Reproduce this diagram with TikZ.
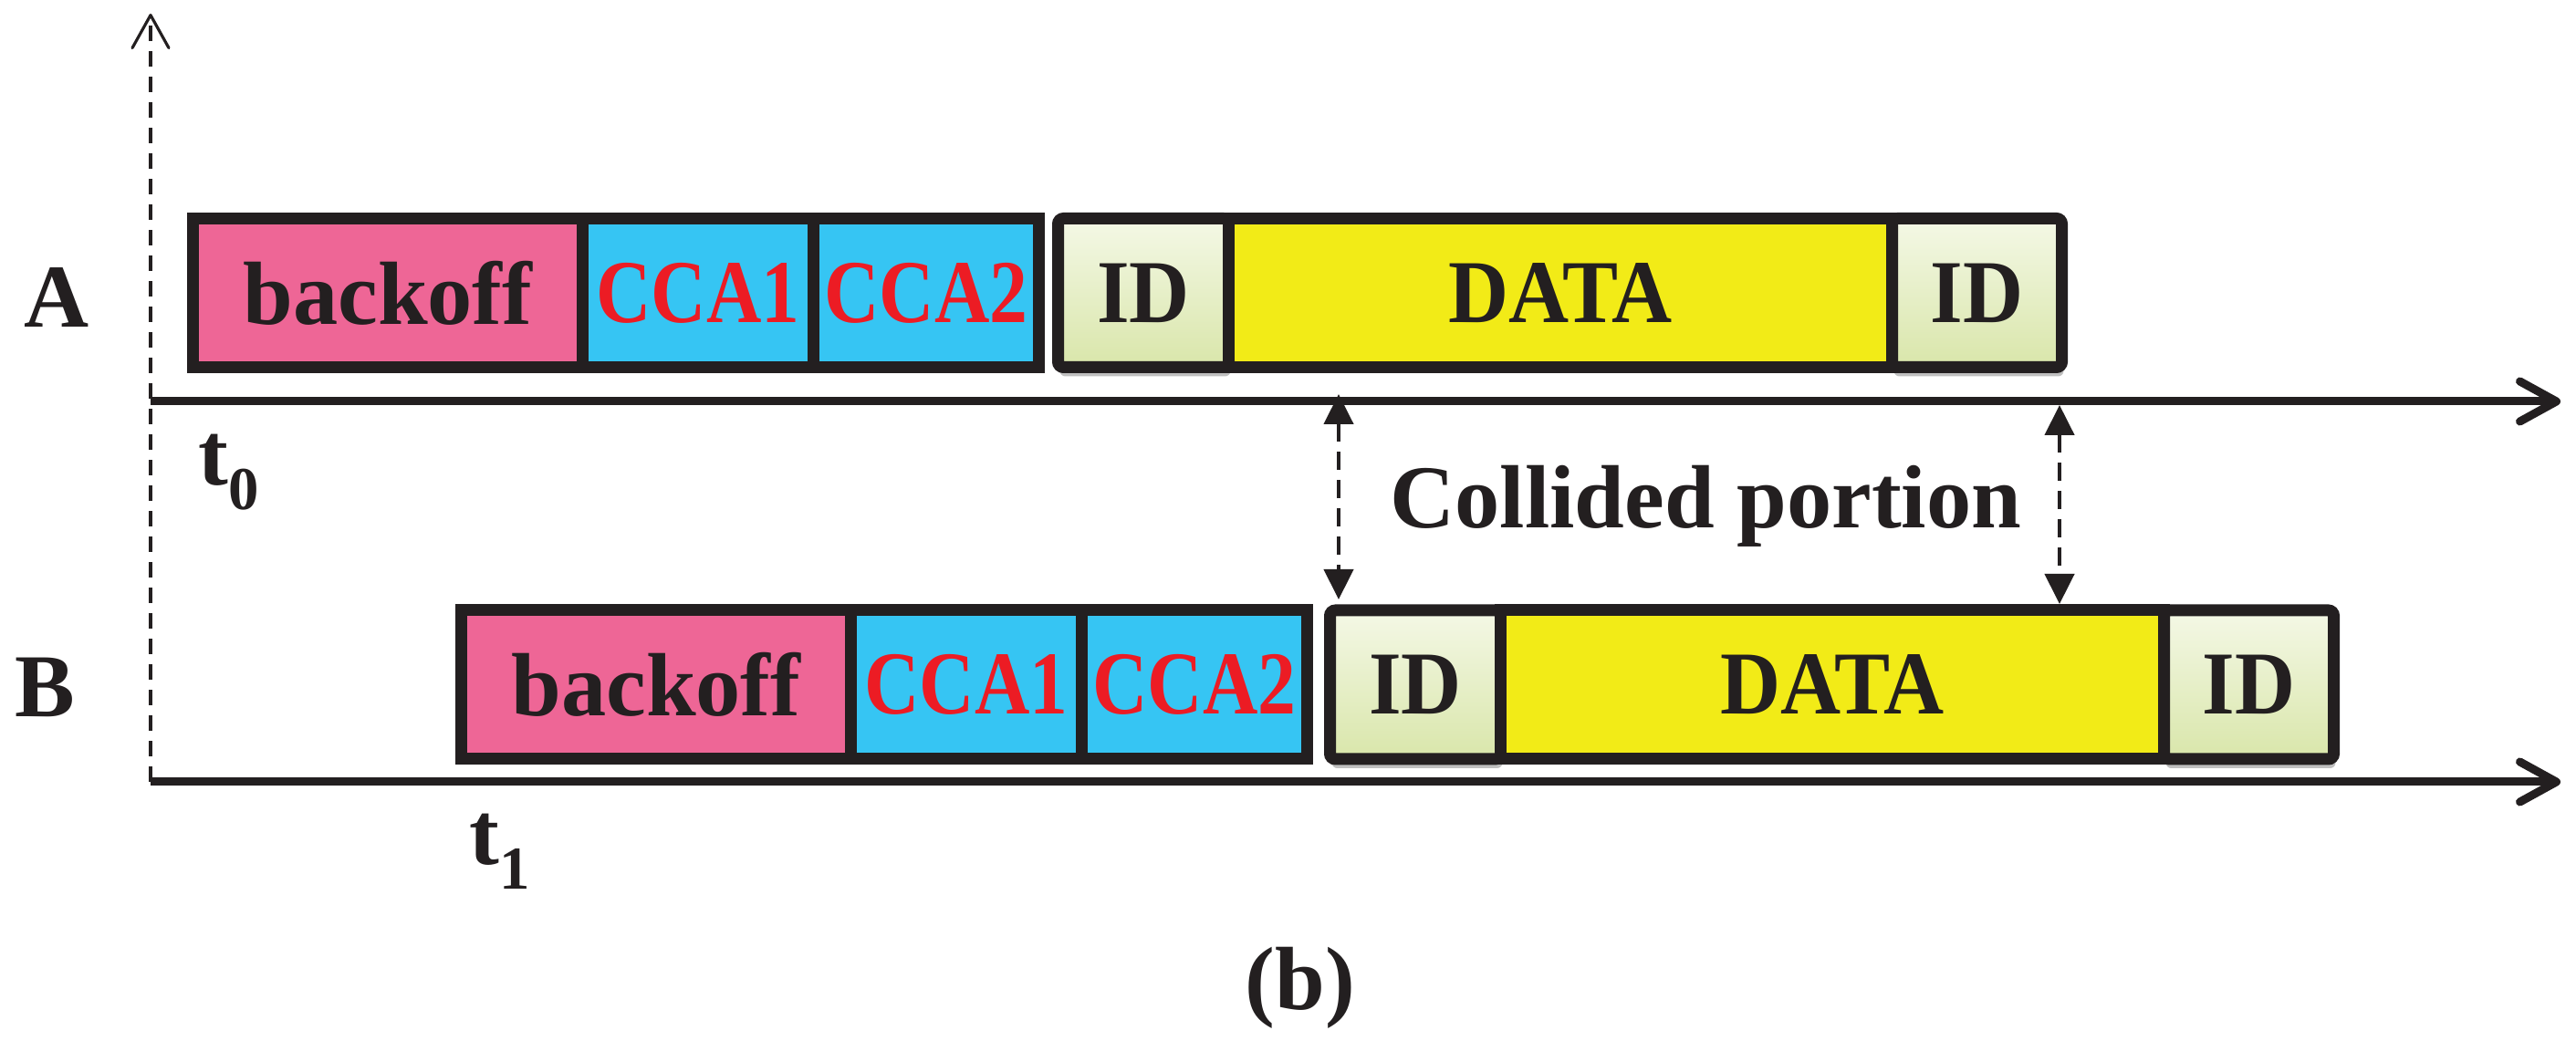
\documentclass[tikz,border=0pt]{standalone}
\usepackage{fontspec}
\setmainfont{Liberation Serif}
\newfontfamily\ccafont[FakeStretch=0.85]{Liberation Serif}
\newfontfamily\idfont[FakeStretch=0.93]{Liberation Serif}
\usepackage{xcolor}
\usepackage{tikz}
\usetikzlibrary{positioning,calc,arrows.meta,shadows}

\definecolor{backoffpink}{RGB}{238,102,150}
\definecolor{ccablue}{RGB}{54,197,243}
\definecolor{datayellow}{RGB}{242,235,23}
\definecolor{ccared}{RGB}{236,28,36}
\definecolor{idtop}{RGB}{244,248,230}
\definecolor{idbottom}{RGB}{217,230,170}
\definecolor{inkblack}{RGB}{35,31,32}

\tikzset{
  slot/.style={draw=inkblack, line width=0.13cm, outer sep=0pt, inner sep=0pt,
    minimum height=1.63cm, text=inkblack, font=\fontsize{28}{30}\selectfont\bfseries},
  backoff/.style={slot, fill=backoffpink, minimum width=4.27cm},
  cca/.style={slot, fill=ccablue, text=ccared, font=\ccafont\fontsize{28}{30}\selectfont\bfseries},
  idbox/.style={slot, rounded corners=0.06cm, top color=idtop, bottom color=idbottom,
    minimum width=1.87cm, font=\idfont\fontsize{28}{30}\selectfont\bfseries,
    drop shadow={shadow xshift=0.02cm, shadow yshift=-0.1cm, opacity=0.25, fill=black}},
  datablock/.style={slot, fill=datayellow, minimum width=7.27cm,
    font=\idfont\fontsize{28}{30}\selectfont\bfseries},
  lbl/.style={text=inkblack, font=\fontsize{28}{30}\selectfont\bfseries},
  subnum/.style={},
  timeaxis/.style={draw=inkblack, line width=0.09cm, -{Straight Barb[length=4mm,width=4.4mm,round]}},
  nodeaxis/.style={draw=inkblack, line width=0.045cm, dash pattern=on 0.17cm off 0.11cm,
    -{Straight Barb[length=3.6mm,width=4mm,line width=0.9pt,round]}},
  collide/.style={draw=inkblack, line width=0.045cm, dash pattern=on 0.2cm off 0.11cm,
    {Triangle[length=3.3mm,width=3.2mm]}-{Triangle[length=3.3mm,width=3.2mm]}}
}

\begin{document}
\begin{tikzpicture}

\useasboundingbox (0,0) rectangle (28.23,11.41);

% axes
\coordinate (origin) at (1.65,2.84);
\coordinate (top)    at (1.65,11.26);
\coordinate (axA)    at (1.65,7.01);
\coordinate (endA)   at (28.06,7.01);
\coordinate (endB)   at (28.06,2.84);

\draw[nodeaxis] (origin) -- (top);
\draw[timeaxis] (axA) -- (endA);
\draw[timeaxis] (origin) -- (endB);

% node A
\node[backoff, anchor=west] (boA) at (2.115,8.20) {backoff};
\node[cca, minimum width=2.53cm] (cca1A) [right=0cm of boA]   {CCA1};
\node[cca, minimum width=2.47cm] (cca2A) [right=0cm of cca1A] {CCA2};
\node[idbox]     (id1A)  [right=0.21cm of cca2A] {ID};
\node[datablock] (dataA) [right=0cm of id1A]     {DATA};
\node[idbox, minimum width=1.86cm] (id2A) [right=0cm of dataA] {ID};

% node B
\node[backoff, anchor=west] (boB) at (5.055,3.905) {backoff};
\node[cca, minimum width=2.53cm] (cca1B) [right=0cm of boB]   {CCA1};
\node[cca, minimum width=2.47cm] (cca2B) [right=0cm of cca1B] {CCA2};
\node[idbox]     (id1B)  [right=0.25cm of cca2B] {ID};
\node[datablock] (dataB) [right=0cm of id1B]     {DATA};
\node[idbox, minimum width=1.86cm] (id2B) [right=0cm of dataB] {ID};

% labels
\node[lbl, anchor=base] (labA) at (0.62,7.82) {A};
\node[lbl, anchor=base] (labB) at (0.49,3.55) {B};
\node[lbl, anchor=base west] (t0) at (2.05,6.09)
  {t\raisebox{-0.27cm}{\fontsize{19}{20}\selectfont 0}};
\node[lbl, anchor=base west] (t1) at (5.02,1.93)
  {t\raisebox{-0.27cm}{\fontsize{19}{20}\selectfont 1}};
\node[lbl, anchor=base west] (coll) at (15.11,5.62) {Collided portion};
\node[lbl, anchor=base] (caption) at (14.25,0.34) {(b)};

% collided portion
\coordinate (cL) at (14.67,7.09);
\coordinate (cR) at (22.57,6.97);
\draw[collide] (cL) -- ($(cL |- id1B.north)+(0,0.12)$);
\draw[collide] (cR) -- ($(cR |- dataB.north)+(0,0.07)$);

\end{tikzpicture}
\end{document}
